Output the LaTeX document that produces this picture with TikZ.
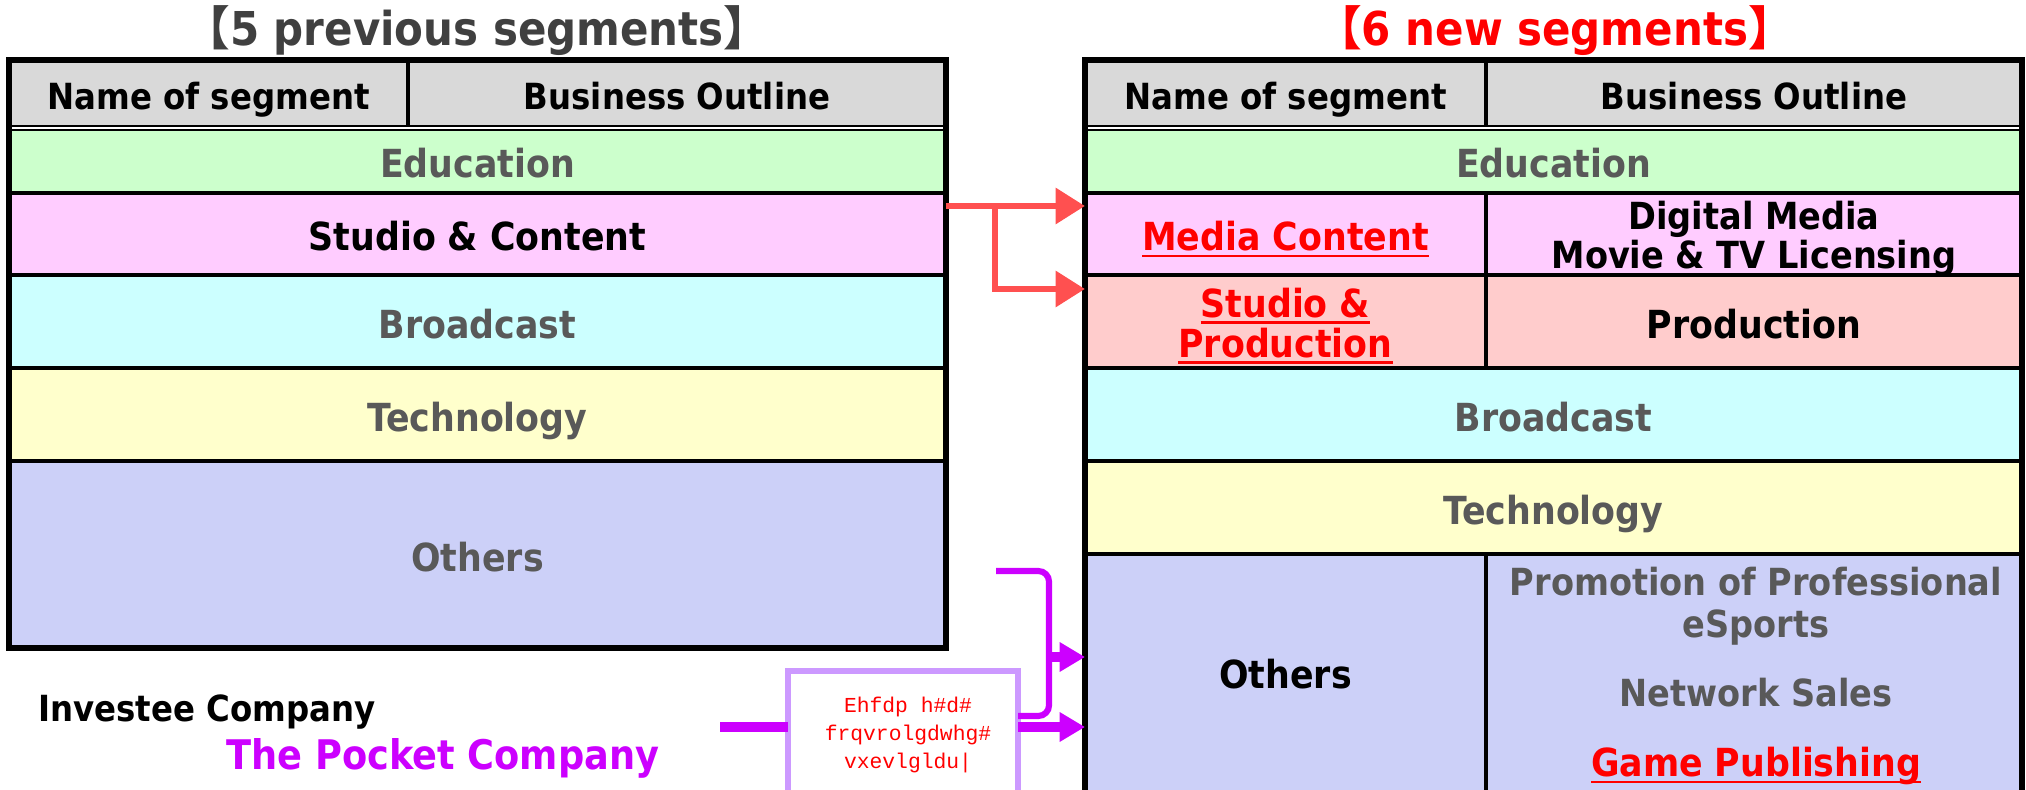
\documentclass[tikz,border=0pt]{standalone}
\usepackage{fontspec}
\setmainfont{DejaVu Sans Condensed}
\newfontfamily\cjkfont{Noto Sans CJK JP}
\newfontfamily\boxfont{Liberation Mono}
\usetikzlibrary{arrows.meta,calc,positioning}
\definecolor{hdrc}{HTML}{D9D9D9}
\definecolor{educ}{HTML}{CCFFCC}
\definecolor{stuc}{HTML}{FFCCFF}
\definecolor{prdc}{HTML}{FFCCCC}
\definecolor{brdc}{HTML}{CCFFFF}
\definecolor{tecc}{HTML}{FFFFCC}
\definecolor{othc}{HTML}{CCD0F8}
\definecolor{greyt}{HTML}{595959}
\definecolor{titg}{HTML}{404040}
\definecolor{redarr}{HTML}{FF5050}
\definecolor{magc}{HTML}{CC00FF}
\definecolor{boxc}{HTML}{CC99FF}
\newsavebox{\ulbox}
\newcommand{\redul}[1]{\textcolor{red}{\sbox{\ulbox}{#1}\rlap{\rule[-2.6pt]{\wd\ulbox}{1.1pt}}\usebox{\ulbox}}}
\newcommand{\lowr}[1]{\raisebox{-1.7pt}[\height][\depth]{#1}}
\tikzset{
  cell/.style={draw=black,line width=1.5pt,inner sep=0pt,outer sep=0pt,anchor=north west,align=center},
  wh/.style 2 args={minimum width=#1*0.375pt,minimum height=#2*0.375pt},
  hdr/.style={cell,fill=hdrc,font=\bfseries\fontsize{13.5}{16}\selectfont,text height=11.7pt,text depth=0pt},
  seg/.style={cell,font=\bfseries\fontsize{14.5}{15}\selectfont},
  one/.style={text height=12.4pt,text depth=0pt},
  gseg/.style={seg,one,text=greyt},
  ttl/.style={font=\bfseries\fontsize{17.5}{20}\selectfont},
  rarr/.style={draw=redarr,line width=2.6pt,-{Triangle[length=11pt,width=13pt]}},
  mline/.style={draw=magc,line width=3.4pt},
  marr/.style={mline,-{Triangle[length=9.5pt,width=10.5pt]}},
  mbrk/.style={draw=magc,line width=2.3pt,rounded corners=4pt}
}

\begin{document}
\begin{tikzpicture}[x=0.375pt,y=-0.375pt,line join=miter]
\useasboundingbox (0,0) rectangle (2026,790);
\clip (0,0) rectangle (2026,790);
\fill[white] (0,0) rectangle (2026,790);

% titles
\node[ttl,text=titg] (oldttl) at (477,31) {{\cjkfont 【}5 previous segments{\cjkfont 】}};
\node[ttl,text=red] (newttl) at (1555,31) {{\cjkfont 【}6 new segments{\cjkfont 】}};

% previous table
\node[hdr,wh={399}{68}] (oldnm) at (9,60) {Name of segment};
\node[hdr,wh={538}{68}] (oldbo) at (408,60) {Business Outline};
\node[gseg,fill=educ,wh={937}{65}] (oldedu) at (9,128) {Education};
\node[seg,one,fill=stuc,wh={937}{82}] (oldstc) at (9,193) {Studio \& Content};
\node[gseg,fill=brdc,wh={937}{93}] (oldbc) at (9,275) {Broadcast};
\node[gseg,fill=tecc,wh={937}{93}] (oldtec) at (9,368) {Technology};
\node[gseg,fill=othc,wh={937}{187}] (oldoth) at (9,461) {Others};
\draw[double=white,double distance=0.4pt,line width=1.1pt] (oldnm.south west) -- (oldbo.south east);
\draw[line width=2.2pt] (oldnm.north west) rectangle (oldoth.south east);

% new table
\node[hdr,wh={401}{68}] (newnm) at (1085,60) {Name of segment};
\node[hdr,wh={536}{68}] (newbo) at (1486,60) {Business Outline};
\node[gseg,fill=educ,wh={937}{65}] (newedu) at (1085,128) {Education};
\node[seg,one,fill=stuc,wh={401}{82}] (newmc) at (1085,193) {\redul{Media Content}};
\node[seg,fill=stuc,wh={536}{82},font=\bfseries\fontsize{14}{14.6}\selectfont] (newdm) at (1486,193) {\lowr{Digital Media}\\\lowr{Movie \& TV Licensing}};
\node[seg,fill=prdc,wh={401}{93}] (newsp) at (1085,275) {\lowr{\redul{Studio \&}}\\\lowr{\redul{Production}}};
\node[seg,one,fill=prdc,wh={536}{93}] (newpr) at (1486,275) {Production};
\node[gseg,fill=brdc,wh={937}{93}] (newbc) at (1085,368) {Broadcast};
\node[gseg,fill=tecc,wh={937}{93}] (newtec) at (1085,461) {Technology};
\node[seg,fill=othc,wh={401}{242},text height=10pt,text depth=0pt] (newoth) at (1085,554) {Others};
\node[seg,fill=othc,wh={536}{242}] (newout) at (1486,554) {};
\draw[double=white,double distance=0.4pt,line width=1.1pt] (newnm.south west) -- (newbo.south east);
\draw[line width=2.2pt] (newnm.north west) rectangle (newout.south east);
\node[font=\bfseries\fontsize{14}{15.7}\selectfont,text=greyt,align=center] (promo) at (1756,606) {Promotion of Professional\\eSports};
\node[font=\bfseries\fontsize{14}{16}\selectfont,text=greyt] (netsl) at (1756,693) {Network Sales};
\node[font=\bfseries\fontsize{14.5}{16}\selectfont] (gamep) at (1756,766) {\redul{Game Publishing}};

% red arrows
\coordinate (ra) at ($(oldstc.north east)+(0,13)$);
\coordinate (rb) at ($(ra)+(49,0)$);
\coordinate (rc) at ($(newsp.north west)+(0,14)$);
\draw[rarr] (ra) -- (ra -| newmc.west);
\draw[rarr] (rb) |- (rc);

% investee company
\node[anchor=west,inner sep=0pt,font=\bfseries\fontsize{13.5}{16}\selectfont] (invco) at (38,712) {Investee Company};
\node[anchor=west,inner sep=0pt,font=\bfseries\fontsize{15.3}{18}\selectfont,text=magc] (pockt) at (226,758) {The Pocket Company};
\node[cell,draw=boxc,line width=2pt,fill=white,wh={230}{130}] (cbox) at (788,671) {};
\node[font=\boxfont\fontsize{8}{10.5}\selectfont,text=red,align=center] (cboxtxt) at (908,735) {Ehfdp h\#d\#\\frqvrolgdwhg\#\\vxevlgldu|};

% magenta connectors
\coordinate (pkin) at (720,727);
\coordinate (bkA) at (996,571);
\coordinate (bkB) at (1049,716);
\coordinate (bkM) at (1049,657);
\draw[mline] (pkin) -- (pkin -| cbox.west);
\draw[marr] (pkin -| cbox.east) -- (pkin -| newoth.west);
\draw[mbrk] (bkA) -| (bkB) -- (bkB -| cbox.east);
\draw[marr] (bkM) -- (bkM -| newoth.west);
\end{tikzpicture}
\end{document}
